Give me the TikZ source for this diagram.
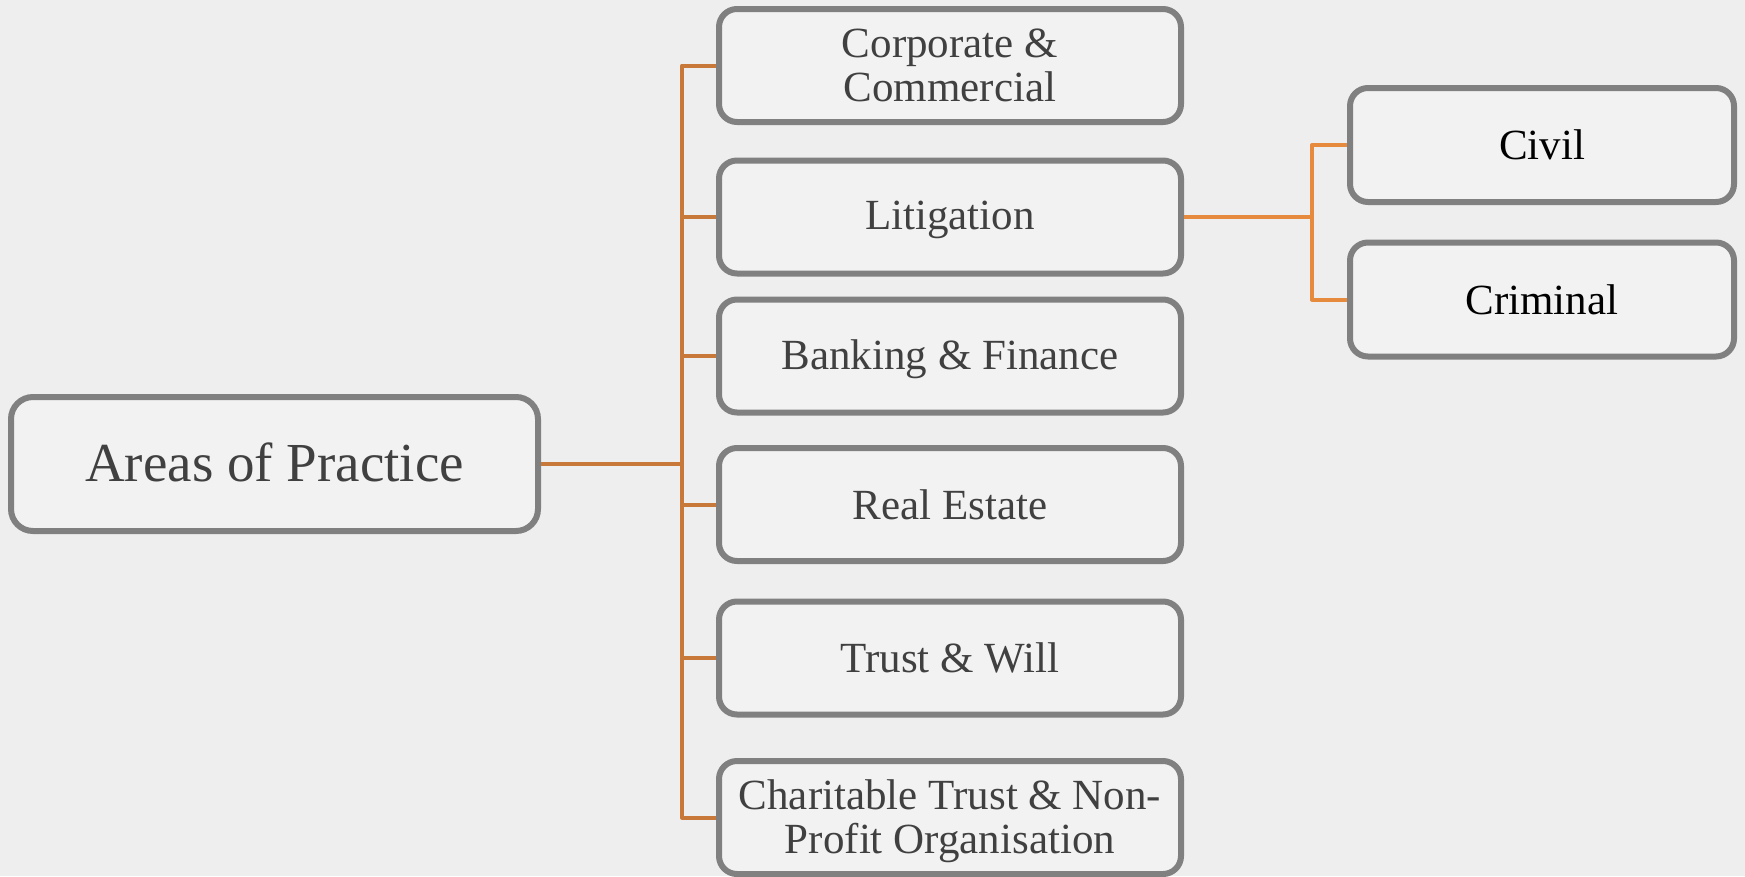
\documentclass[tikz,border=0pt]{standalone}
\usepackage{fontspec}
\setmainfont{Liberation Serif}
\definecolor{bgc}{HTML}{EEEEEE}
\definecolor{boxfill}{HTML}{F2F2F2}
\definecolor{boxline}{HTML}{808080}
\definecolor{txtc}{HTML}{404040}
\definecolor{mainline}{HTML}{C8793A}
\definecolor{subline}{HTML}{E68A3E}
\tikzset{
  x=1pt, y=-1pt,
  boxbase/.style={draw=boxline, fill=boxfill, line width=6pt, rounded corners=18pt,
    inner sep=0pt, align=center, font=\fontsize{43}{44}\selectfont, text=txtc},
  midbox/.style={boxbase, minimum width=462pt, minimum height=113pt},
  subbox/.style={boxbase, minimum width=384pt, minimum height=114pt, text=black},
  rootbox/.style={boxbase, minimum width=527pt, minimum height=134pt, rounded corners=22pt,
    font=\fontsize{55}{60}\selectfont},
  mainconn/.style={draw=mainline, line width=4pt},
  subconn/.style={draw=subline, line width=4pt},
}
\begin{document}
\begin{tikzpicture}
\useasboundingbox (0,0) rectangle (1745,876);
\fill[bgc] (0,0) rectangle (1745,876);

\node[rootbox] (root) at (274.5,464) {\raisebox{2pt}[\height][\depth]{Areas of Practice}};

\node[midbox] (m1) at (950,65.5) {Corporate \&\\Commercial};
\node[midbox] (m2) at (950,217) {\raisebox{-3pt}[\height][\depth]{Litigation}};
\node[midbox] (m3) at (950,356) {\raisebox{-3pt}[\height][\depth]{Banking \& Finance}};
\node[midbox] (m4) at (950,504.5) {Real Estate};
\node[midbox] (m5) at (950,658) {Trust \& Will};
\node[midbox] (m6) at (950,817.5) {\raisebox{-5pt}[\height][\depth]{\begin{tabular}{@{}c@{}}Charitable Trust \& Non-\\Profit Organisation\end{tabular}}};

\node[subbox] (s1) at (1542,145) {Civil};
\node[subbox] (s2) at (1542,299.5) {Criminal};

\coordinate (tx) at (682,0);
\coordinate (sx) at (1312,0);

\draw[mainconn] (root.east) -- (root.east -| tx);
\draw[mainconn, line join=round] (m1.west) -- (m1.west -| tx) -- (m6.west -| tx) -- (m6.west);
\draw[mainconn] (m2.west) -- (m2.west -| tx);
\draw[mainconn] (m3.west) -- (m3.west -| tx);
\draw[mainconn] (m4.west) -- (m4.west -| tx);
\draw[mainconn] (m5.west) -- (m5.west -| tx);

\draw[subconn] (m2.east) -- (m2.east -| sx);
\draw[subconn, line join=round] (s1.west) -- (s1.west -| sx) -- (s2.west -| sx) -- (s2.west);
\end{tikzpicture}
\end{document}
